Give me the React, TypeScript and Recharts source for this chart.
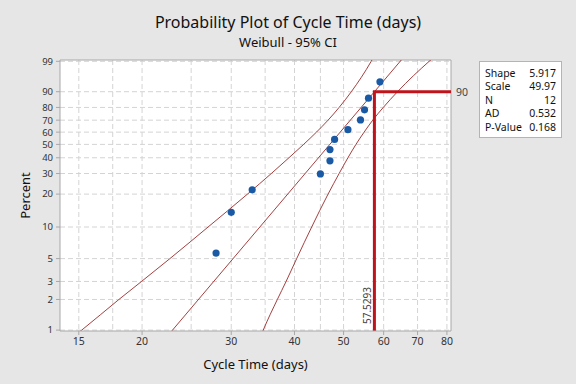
import React from 'react';
import { ComposedChart, Line, Scatter, XAxis, YAxis, CartesianGrid, ReferenceLine } from 'recharts';

// ---- data ----
const cycleTimes = [28, 30, 33, 45, 47, 47, 48, 51, 54, 55, 56, 59];
const plotPercents = [5.65, 13.7, 21.8, 29.8, 37.9, 46.0, 54.0, 62.1, 70.2, 78.2, 86.3, 94.4];

const percentTicks = [1, 2, 3, 5, 10, 20, 30, 40, 50, 60, 70, 80, 90, 99];
const timeTicks = [15, 20, 30, 40, 50, 60, 70, 80];
const timeGrid = [15, 17.5, 20, 25, 30, 35, 40, 45, 50, 55, 60, 65, 70, 75, 80];

const ciPercents = [0.9, 1, 2, 3, 5, 10, 20, 30, 40, 50, 60, 70, 80, 90, 99, 99.5];
const ciLowerTimes = [14.8, 15.2, 18.0, 19.95, 22.7, 27.0, 32.3, 36.0, 39.0, 41.7, 44.2, 46.6, 49.0, 51.8, 56.7, 57.6];
const ciUpperTimes = [34.4, 34.7, 37.0, 38.5, 40.4, 43.25, 46.6, 49.0, 51.0, 52.9, 54.9, 57.1, 59.9, 63.9, 73.8, 76.2];

const fitPercents = [0.9, 99.5];
const fitTimes = [22.56, 66.24];

const refPercent = 90;
const refTime = 57.5293;

const statLabels = ['Shape', 'Scale', 'N', 'AD', 'P-Value'];
const statValues = ['5.917', '49.97', '12', '0.532', '0.168'];

// ---- axis transform (Weibull probability scale) ----
const wb = (p: number) => Math.log(-Math.log(1 - p / 100));
const xDomain: [number, number] = [13.77, 81.5];
const yDomain: [number, number] = [wb(0.98), wb(99.13)];

const points = cycleTimes.map((x, i) => ({ x, y: wb(plotPercents[i]) }));
const ciLower = ciPercents.map((p, i) => ({ x: ciLowerTimes[i], y: wb(p) }));
const ciUpper = ciPercents.map((p, i) => ({ x: ciUpperTimes[i], y: wb(p) }));
const fitLine = fitPercents.map((p, i) => ({ x: fitTimes[i], y: wb(p) }));
const refPath = [
  { x: refTime, y: yDomain[0] },
  { x: refTime, y: wb(refPercent) },
  { x: xDomain[1], y: wb(refPercent) },
];
const yTickVals = percentTicks.map(wb);
const labelFor = (v: number) => {
  let best = percentTicks[0];
  let bd = Infinity;
  percentTicks.forEach((p) => {
    const d = Math.abs(wb(p) - v);
    if (d < bd) { bd = d; best = p; }
  });
  return String(best);
};

const FONT = '"Noto Sans", sans-serif';
const RED = '#c0141c';
const CI = '#9a2a2a';

export default function App() {
  return (
    <div style={{ position: 'absolute', left: 0, top: 0, width: 576, height: 384, background: '#e6e6e6', fontFamily: FONT }}>
      <ComposedChart width={576} height={384} margin={{ top: 60, right: 125, bottom: 0, left: 0 }}>
        <CartesianGrid
          fill="#ffffff"
          stroke="#d4d4d4"
          strokeDasharray="5 3"
          verticalValues={timeGrid}
          horizontalValues={yTickVals}
        />
        <XAxis
          dataKey="x"
          type="number"
          scale="log"
          domain={xDomain}
          allowDataOverflow
          ticks={timeTicks}
          height={53}
          tickSize={4}
          tickMargin={3}
          stroke="#a8a8a8"
          tick={{ fill: '#333', fontSize: 10.5, fontFamily: FONT }}
          label={{ value: 'Cycle Time (days)', position: 'insideBottom', offset: 15, fill: '#111', fontSize: 13, fontFamily: FONT }}
        />
        <YAxis
          dataKey="y"
          type="number"
          domain={yDomain}
          allowDataOverflow
          ticks={yTickVals}
          tickFormatter={labelFor}
          interval={0}
          width={60}
          tickSize={4}
          tickMargin={3}
          stroke="#a8a8a8"
          tick={{ fill: '#333', fontSize: 9.5, fontFamily: FONT }}
          label={{ value: 'Percent', angle: -90, position: 'insideLeft', offset: 25, fill: '#111', fontSize: 13, fontFamily: FONT, style: { textAnchor: 'middle' } }}
        />
        <ReferenceLine y={yDomain[1]} stroke="#a8a8a8" ifOverflow="extendDomain" />
        <ReferenceLine x={xDomain[1]} stroke="#a8a8a8" ifOverflow="extendDomain" />
        <Line data={ciLower} dataKey="y" type="monotone" stroke={CI} strokeWidth={0.9} dot={false} isAnimationActive={false} />
        <Line data={ciUpper} dataKey="y" type="monotone" stroke={CI} strokeWidth={0.9} dot={false} isAnimationActive={false} />
        <Line data={fitLine} dataKey="y" type="linear" stroke={CI} strokeWidth={0.9} dot={false} isAnimationActive={false} />
        <Line data={refPath} dataKey="y" type="linear" stroke={RED} strokeWidth={3} dot={false} isAnimationActive={false} />
        <Scatter data={points} dataKey="y" fill="#1a5aa5" isAnimationActive={false}
          shape={(p: any) => <circle cx={p.cx} cy={p.cy} r={3.6} fill="#1a5aa5" />} />
        <ReferenceLine
          segment={[{ x: refTime, y: yDomain[0] }, { x: refTime, y: wb(refPercent) }]}
          stroke="none"
          label={(props: any) => {
            const vb = props.viewBox || {};
            const tx = vb.x - 3;
            const ty = vb.y + vb.height - 7;
            return (
              <text x={tx} y={ty} transform={`rotate(-90 ${tx} ${ty})`} fontSize={10} fill="#444" fontFamily={FONT}>
                {String(refTime)}
              </text>
            );
          }}
        />
        <ReferenceLine
          segment={[{ x: refTime, y: wb(refPercent) }, { x: xDomain[1], y: wb(refPercent) }]}
          stroke="none"
          label={(props: any) => {
            const vb = props.viewBox || {};
            return (
              <text x={vb.x + vb.width + 5} y={vb.y + 4} fontSize={10.5} fill="#444" fontFamily={FONT}>
                {String(refPercent)}
              </text>
            );
          }}
        />
      </ComposedChart>
      <svg width={576} height={384} style={{ position: 'absolute', left: 0, top: 0, pointerEvents: 'none' }}>
        <text x={288} y={28} textAnchor="middle" fontSize={16} fill="#111" fontFamily={FONT}>
          Probability Plot of Cycle Time (days)
        </text>
        <text x={288} y={47} textAnchor="middle" fontSize={13} fill="#111" fontFamily={FONT}>
          Weibull - 95% CI
        </text>
        <rect x={479.5} y={61.5} width={82} height={76} fill="#ffffff" stroke="#b4b4b4" />
        {statLabels.map((s, i) => (
          <g key={s}>
            <text x={485} y={76.5 + i * 13.5} fontSize={10.5} fill="#111" fontFamily={FONT}>{s}</text>
            <text x={556} y={76.5 + i * 13.5} fontSize={10.5} fill="#111" fontFamily={FONT} textAnchor="end">{statValues[i]}</text>
          </g>
        ))}
      </svg>
    </div>
  );
}
